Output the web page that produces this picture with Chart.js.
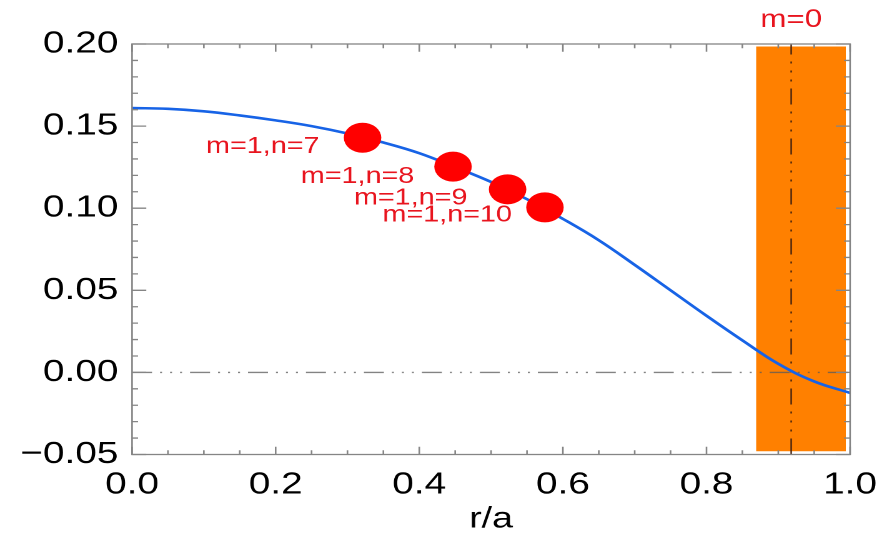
<!DOCTYPE html>
<html><head><meta charset="utf-8">
<script src="https://cdn.jsdelivr.net/npm/chart.js@4.4.0/dist/chart.umd.min.js"></script>
<style>
html,body{margin:0;padding:0;background:#fff;overflow:hidden;width:892px;height:534px;}
#wrap{position:absolute;left:0;top:0;width:714px;height:534px;transform:scale(1.2493,1);transform-origin:0 0;}
</style></head><body>
<div id="wrap"><canvas id="c"></canvas></div>
<script>
// profile q(r)
const rVals   = [0, 0.05, 0.10, 0.15, 0.20, 0.25, 0.30, 0.35, 0.40, 0.45, 0.50, 0.55, 0.60, 0.65, 0.70, 0.75, 0.80, 0.85, 0.90, 0.95, 1.00];
const profile = [0.161, 0.1605, 0.159, 0.1565, 0.1535, 0.150, 0.1455, 0.140, 0.1335, 0.1250, 0.1160, 0.1055, 0.0935, 0.0805, 0.0655, 0.0500, 0.0345, 0.0195, 0.0052, -0.0055, -0.0125];
// rational surfaces
const surfR = [0.321, 0.447, 0.523, 0.575];
const surfQ = [0.1429, 0.1253, 0.1115, 0.1005];
const surfLabels = ['m=1,n=7', 'm=1,n=8', 'm=1,n=9', 'm=1,n=10'];
const labelR = [0.261, 0.393, 0.467, 0.529];
const labelQ = [0.1375, 0.1192, 0.1060, 0.0959];
// m=0 region
const bandR = [0.869, 0.994];
const bandQ = [-0.048, 0.1985];
const m0R = 0.918;
const m0Label = 'm=0';
const m0LabelQ = 0.2146;
// axes
const xTicks = [0, 0.2, 0.4, 0.6, 0.8, 1.0];
const yTicks = [-0.05, 0, 0.05, 0.10, 0.15, 0.20];
const xTitle = 'r/a';

const FONT = '"Liberation Sans", Arial, Helvetica, sans-serif';
const dashPatH = [16, 6.4, 1.6, 6.4, 1.6, 6.4, 1.6, 6.4];
const dashPatV = [16, 7, 2, 7, 2, 7, 2, 7];

const frameTicks = {
  id: 'frameTicks',
  afterDatasetsDraw(chart) {
    const {ctx, chartArea: a, scales: {x, y}} = chart;
    ctx.save();
    ctx.strokeStyle = '#858585';
    ctx.lineWidth = 1.3;
    ctx.strokeRect(a.left, a.top, a.right - a.left, a.bottom - a.top);
    ctx.beginPath();
    for (let i = 0; i <= 20; i++) {
      const v = i * 0.05;
      const major = xTicks.some(t => Math.abs(t - v) < 1e-6);
      const L = major ? 7.7 : 4.3;
      const px = x.getPixelForValue(v);
      ctx.moveTo(px, a.bottom); ctx.lineTo(px, a.bottom - L);
      ctx.moveTo(px, a.top); ctx.lineTo(px, a.top + L);
    }
    for (let i = 0; i <= 25; i++) {
      const v = -0.05 + i * 0.01;
      const major = yTicks.some(t => Math.abs(t - v) < 1e-6);
      const L = major ? 11.4 : 4.8;
      const py = y.getPixelForValue(v);
      ctx.moveTo(a.left, py); ctx.lineTo(a.left + L, py);
      ctx.moveTo(a.right, py); ctx.lineTo(a.right - L, py);
    }
    ctx.stroke();
    ctx.restore();
  },
  afterDraw(chart) {
    const {ctx, scales: {x, y}} = chart;
    ctx.save();
    ctx.fillStyle = '#e8141e';
    ctx.textAlign = 'right';
    ctx.textBaseline = 'middle';
    ctx.font = '23px ' + FONT;
    surfLabels.forEach((t, i) => {
      ctx.fillText(t, x.getPixelForValue(labelR[i]), y.getPixelForValue(labelQ[i]));
    });
    ctx.textAlign = 'center';
    ctx.font = '25px ' + FONT;
    ctx.fillText(m0Label, x.getPixelForValue(m0R), y.getPixelForValue(m0LabelQ));
    ctx.restore();
  }
};

new Chart(document.getElementById('c'), {
  type: 'line',
  data: {
    datasets: [
      {
        data: surfR.map((r, i) => ({x: r, y: surfQ[i]})),
        showLine: false, pointRadius: 15, pointHoverRadius: 15,
        pointBackgroundColor: '#ff0000', pointBorderWidth: 0, order: 1
      },
      {
        data: rVals.map((r, i) => ({x: r, y: profile[i]})),
        borderColor: '#1763e6', borderWidth: 2.6, pointRadius: 0,
        tension: 0.4, fill: false, order: 2
      },
      {
        data: [{x: m0R, y: -0.05}, {x: m0R, y: 0.20}],
        borderColor: 'rgba(70,35,15,0.85)', borderWidth: 1.4, borderDash: dashPatV,
        pointRadius: 0, fill: false, order: 3
      },
      {
        data: [{x: 0, y: 0}, {x: 1, y: 0}],
        borderColor: 'rgba(90,90,90,0.75)', borderWidth: 1.4, borderDash: dashPatH,
        pointRadius: 0, fill: false, order: 4
      },
      {
        data: [{x: bandR[0], y: bandQ[1]}, {x: bandR[1], y: bandQ[1]}],
        borderWidth: 0, borderColor: 'rgba(0,0,0,0)', backgroundColor: '#ff8000',
        pointRadius: 0, fill: {value: bandQ[0]}, order: 5
      }
    ]
  },
  options: {
    responsive: true, maintainAspectRatio: false, animation: false, devicePixelRatio: 2,
    layout: {padding: {left: 0, right: 32, top: 44, bottom: 0}},
    plugins: {legend: {display: false}, tooltip: {enabled: false}},
    events: [],
    scales: {
      x: {
        type: 'linear', min: 0, max: 1,
        grid: {display: false, drawTicks: false}, border: {display: false},
        afterBuildTicks: s => { s.ticks = xTicks.map(v => ({value: v})); },
        afterFit: s => { s.height = 79.5; },
        ticks: {color: '#000', padding: 12, font: {family: FONT, size: 31, lineHeight: 1.2},
                callback: v => Number(v).toFixed(1), maxRotation: 0, autoSkip: false},
        title: {display: true, text: xTitle, color: '#000', padding: 0,
                font: {family: FONT, size: 30, lineHeight: 1.0}}
      },
      y: {
        type: 'linear', min: -0.05, max: 0.20,
        grid: {display: false, drawTicks: false}, border: {display: false},
        afterBuildTicks: s => { s.ticks = yTicks.map(v => ({value: v})); },
        afterFit: s => { s.width = 105.7; },
        ticks: {color: '#000', padding: 11, font: {family: FONT, size: 31},
                callback: v => (v < -1e-9 ? '\u2212' : '') + Math.abs(v).toFixed(2), autoSkip: false}
      }
    }
  },
  plugins: [frameTicks]
});
</script>
</body></html>
